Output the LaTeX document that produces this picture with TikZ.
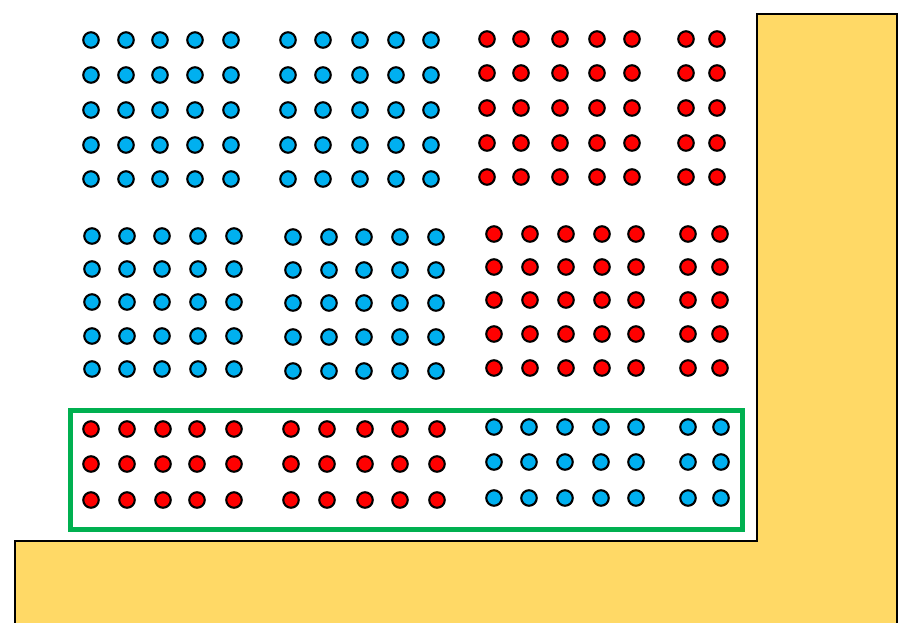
\documentclass[tikz,border=0pt]{standalone}
\definecolor{dotblue}{RGB}{0,176,240}
\definecolor{dotred}{RGB}{255,0,0}
\definecolor{wall}{RGB}{255,217,102}
\definecolor{frame}{RGB}{0,176,80}
\begin{document}
\begin{tikzpicture}[x=1pt,y=-1pt,
  dot/.style={circle,draw=black,line width=2.1pt,minimum size=15.5pt,inner sep=0pt},
  bdot/.style={dot,fill=dotblue},
  rdot/.style={dot,fill=dotred},
  wallstyle/.style={draw=black,fill=wall,line width=2pt},
  framestyle/.style={draw=frame,line width=5pt}]
\useasboundingbox (0,0) rectangle (909,622);
% yellow L-shaped wall
\draw[wallstyle] (15,630) -- (15,541) -- (757,541) -- (757,14) -- (897,14) -- (897,630);
% green frame
\draw[framestyle] (70.5,410) rectangle (742,529);
% top row of blocks
\foreach \x [count=\i] in {91,126,160,195,231}
  \foreach \y [count=\j] in {40,75,110,145,179}
    \node[bdot] (a\i-\j) at (\x,\y) {};
\foreach \x [count=\i] in {288,323,360,396,431}
  \foreach \y [count=\j] in {40,75,110,145,179}
    \node[bdot] (b\i-\j) at (\x,\y) {};
\foreach \x [count=\i] in {487,521,560,597,632,686,717}
  \foreach \y [count=\j] in {39,73,108,143,177}
    \node[rdot] (c\i-\j) at (\x,\y) {};
% middle row of blocks
\foreach \x [count=\i] in {92,127,162,198,234}
  \foreach \y [count=\j] in {236,269,302,336,369}
    \node[bdot] (d\i-\j) at (\x,\y) {};
\foreach \x [count=\i] in {293,329,364,400,436}
  \foreach \y [count=\j] in {237,270,303,337,371}
    \node[bdot] (e\i-\j) at (\x,\y) {};
\foreach \x [count=\i] in {494,530,566,602,636,688,720}
  \foreach \y [count=\j] in {234,267,300,334,368}
    \node[rdot] (f\i-\j) at (\x,\y) {};
% bottom row (framed)
\foreach \x [count=\i] in {91,127,163,197,234}
  \foreach \y [count=\j] in {429,464,500}
    \node[rdot] (g\i-\j) at (\x,\y) {};
\foreach \x [count=\i] in {291,327,365,400,437}
  \foreach \y [count=\j] in {429,464,500}
    \node[rdot] (h\i-\j) at (\x,\y) {};
\foreach \x [count=\i] in {494,529,565,601,636,688,721}
  \foreach \y [count=\j] in {427,462,498}
    \node[bdot] (k\i-\j) at (\x,\y) {};
\end{tikzpicture}
\end{document}
